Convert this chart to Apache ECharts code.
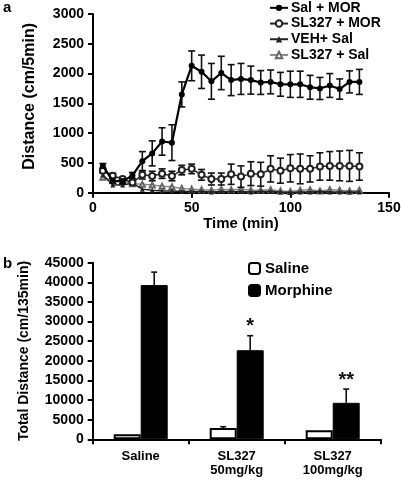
<!DOCTYPE html>
<html>
<head>
<meta charset="utf-8">
<script src="https://cdn.jsdelivr.net/npm/echarts@6/dist/echarts.min.js"></script>
<style>html,body{margin:0;padding:0;background:#fff}#c{width:401px;height:480px}</style>
</head>
<body>
<div id="c"></div>
<script>
// ---- Panel a data ----
var timeMin = [5,10,15,20,25,30,35,40,45,50,55,60,65,70,75,80,85,90,95,100,105,110,115,120,125,130,135];
var salMor = [450,200,190,290,530,660,860,840,1650,2130,2030,1870,2010,1890,1910,1890,1850,1860,1820,1820,1820,1770,1750,1800,1740,1860,1860];
var salMorErr = [40,40,40,50,160,210,230,300,210,250,280,300,280,260,260,235,200,200,200,220,220,200,185,200,170,185,210];
var sl327Mor = [370,285,230,170,300,280,320,280,380,400,300,230,230,310,270,320,310,400,370,410,400,400,440,450,450,450,440];
var sl327MorErr = [40,40,30,40,70,80,80,80,80,80,90,100,100,170,180,200,200,220,210,230,250,220,230,240,250,260,230];
var vehSal = [300,130,130,160,60,40,30,30,20,20,20,10,20,20,20,10,20,20,10,5,10,10,20,10,10,10,10];
var sl327Sal = [260,200,190,150,140,130,110,100,70,60,50,40,60,50,60,40,40,50,30,20,40,50,30,50,40,30,40];
var seriesNamesA = ['Sal + MOR','SL327 + MOR','VEH+ Sal','SL327 + Sal'];
var xTicksA = {min:0, max:150, interval:50};
var yTicksA = {min:0, max:3000, interval:500};

// ---- Panel b data ----
var groups = ['Saline','SL327\n50mg/kg','SL327\n100mg/kg'];
var salineTotal = [1300,2900,2300];
var salineTotalErr = [0,300,0];
var morphineTotal = [39300,22700,9300];
var morphineTotalErr = [3300,3700,3500];
var signif = ['','*','**'];
var yTicksB = {min:0, max:45000, interval:5000};

var FONT = 'Liberation Sans, Arial, sans-serif';
var chart = echarts.init(document.getElementById('c'), null, {renderer:'canvas'});

function pairs(xs, ys){ return xs.map(function(x,i){return [x, ys[i]];}); }
function errData(xs, ys, es){ return xs.map(function(x,i){return [x, ys[i], es[i]];}); }

function errRender(params, api){
  var x = api.value(0), y = api.value(1), e = api.value(2);
  var top = api.coord([x, y + e]);
  var bot = api.coord([x, Math.max(0, y - e)]);
  var cw = 3.5;
  return {type:'group', children:[
    {type:'line', shape:{x1:top[0],y1:top[1],x2:bot[0],y2:bot[1]}, style:{stroke:'#111',lineWidth:1.6}},
    {type:'line', shape:{x1:top[0]-cw,y1:top[1],x2:top[0]+cw,y2:top[1]}, style:{stroke:'#111',lineWidth:1.6}},
    {type:'line', shape:{x1:bot[0]-cw,y1:bot[1],x2:bot[0]+cw,y2:bot[1]}, style:{stroke:'#111',lineWidth:1.6}}
  ]};
}

function barErrRender(offsetSign){
  return function(params, api){
    var ci = api.value(0), y = api.value(1), e = api.value(2);
    var base = api.coord([ci, y]);
    var top = api.coord([ci, y + e]);
    var x = base[0] + offsetSign * 13.5;
    var ch = [];
    if (e > 0) {
      ch.push({type:'line', shape:{x1:x,y1:base[1],x2:x,y2:top[1]}, style:{stroke:'#111',lineWidth:1.6}});
      ch.push({type:'line', shape:{x1:x-3,y1:top[1],x2:x+3,y2:top[1]}, style:{stroke:'#111',lineWidth:1.6}});
    }
    var lab = signif[params.dataIndex];
    if (offsetSign > 0 && lab) {
      ch.push({type:'text', style:{text:lab, x:x, y:top[1]+1, align:'center', verticalAlign:'bottom', fill:'#111', font:'bold 20px ' + FONT}});
    }
    return {type:'group', children:ch};
  };
}

var axisLineStyle = {color:'#000', width:2};
var plain = function(v){ return String(v); };
var tickLab = {color:'#000', fontWeight:'bold', fontSize:14, fontFamily:FONT, formatter:plain};

var option = {
  animation:false,
  backgroundColor:'#fff',
  textStyle:{fontFamily:FONT},
  graphic:[
    {type:'text', left:3, top:0, style:{text:'a', font:'bold 15px ' + FONT, fill:'#000'}},
    {type:'text', left:3, top:256, style:{text:'b', font:'bold 15px ' + FONT, fill:'#000'}}
  ],
  legend:[
    {data:seriesNamesA, orient:'vertical', left:264, top:-5, itemGap:0, itemWidth:18, itemHeight:8,
     textStyle:{color:'#000', fontWeight:'bold', fontSize:14, fontFamily:FONT, padding:[0,0,0,-2], lineHeight:15.7}},
    {data:['Saline','Morphine'], orient:'vertical', left:243, top:256, itemGap:7, itemWidth:11, itemHeight:11,
     textStyle:{color:'#000', fontWeight:'bold', fontSize:15, fontFamily:FONT}}
  ],
  grid:[
    {left:93, right:12, top:14, bottom:287.3, containLabel:false, outerBoundsMode:'none'},
    {left:92.7, right:20.3, top:262.7, bottom:40.7, containLabel:false, outerBoundsMode:'none'}
  ],
  xAxis:[
    {gridIndex:0, type:'value', min:xTicksA.min, max:xTicksA.max, interval:xTicksA.interval,
     name:'Time (min)', nameLocation:'middle', nameGap:24,
     nameTextStyle:{color:'#000', fontWeight:'bold', fontSize:15, fontFamily:FONT},
     axisLine:{lineStyle:axisLineStyle}, axisTick:{show:true, length:5, lineStyle:{color:'#000', width:2}},
     axisLabel:Object.assign({margin:8}, tickLab), splitLine:{show:false}},
    {gridIndex:1, type:'category', data:groups,
     axisLine:{lineStyle:axisLineStyle}, axisTick:{show:true, length:5, alignWithLabel:false, lineStyle:{color:'#000', width:2}},
     axisLabel:{color:'#000', fontWeight:'bold', fontSize:13, fontFamily:FONT, margin:10, lineHeight:14},
     splitLine:{show:false}}
  ],
  yAxis:[
    {gridIndex:0, type:'value', min:yTicksA.min, max:yTicksA.max, interval:yTicksA.interval,
     name:'Distance (cm/5min)', nameLocation:'middle', nameGap:55,
     nameTextStyle:{color:'#000', fontWeight:'bold', fontSize:16, fontFamily:FONT, padding:[0,0,0,14]},
     axisLine:{show:true, lineStyle:axisLineStyle}, axisTick:{show:true, length:5, lineStyle:{color:'#000', width:2}},
     axisLabel:Object.assign({margin:9}, tickLab), splitLine:{show:false}},
    {gridIndex:1, type:'value', min:yTicksB.min, max:yTicksB.max, interval:yTicksB.interval,
     name:'Total Distance (cm/135min)', nameLocation:'middle', nameGap:62,
     nameTextStyle:{color:'#000', fontWeight:'bold', fontSize:14, fontFamily:FONT},
     axisLine:{show:true, lineStyle:axisLineStyle}, axisTick:{show:true, length:5, lineStyle:{color:'#000', width:2}},
     axisLabel:Object.assign({margin:9}, tickLab), splitLine:{show:false}}
  ],
  series:[
    {name:'SL327 + Sal', type:'line', xAxisIndex:0, yAxisIndex:0, data:pairs(timeMin, sl327Sal),
     symbol:'emptyTriangle', symbolSize:5, lineStyle:{color:'#8a8a8a', width:1.5},
     itemStyle:{color:'#666', borderColor:'#666', borderWidth:1}, z:2},
    {name:'VEH+ Sal', type:'line', xAxisIndex:0, yAxisIndex:0, data:pairs(timeMin, vehSal),
     symbol:'triangle', symbolSize:5, lineStyle:{color:'#222', width:1.5},
     itemStyle:{color:'#222'}, z:3},
    {type:'custom', xAxisIndex:0, yAxisIndex:0, data:errData(timeMin, sl327Mor, sl327MorErr), renderItem:errRender, z:4, silent:true},
    {name:'SL327 + MOR', type:'line', xAxisIndex:0, yAxisIndex:0, data:pairs(timeMin, sl327Mor),
     symbol:'emptyCircle', symbolSize:6, lineStyle:{color:'#222', width:1.5},
     itemStyle:{color:'#222', borderColor:'#222', borderWidth:1.2}, z:5},
    {type:'custom', xAxisIndex:0, yAxisIndex:0, data:errData(timeMin, salMor, salMorErr), renderItem:errRender, z:6, silent:true},
    {name:'Sal + MOR', type:'line', xAxisIndex:0, yAxisIndex:0, data:pairs(timeMin, salMor),
     symbol:'circle', symbolSize:6, lineStyle:{color:'#000', width:2.2},
     itemStyle:{color:'#000'}, z:7},

    {name:'Saline', type:'bar', xAxisIndex:1, yAxisIndex:1, data:salineTotal, barWidth:27, barGap:'0%',
     itemStyle:{color:'#fff', borderColor:'#000', borderWidth:2}},
    {name:'Morphine', type:'bar', xAxisIndex:1, yAxisIndex:1, data:morphineTotal, barWidth:27, barGap:'0%',
     itemStyle:{color:'#000', borderColor:'#000', borderWidth:1}},
    {type:'custom', xAxisIndex:1, yAxisIndex:1, data:salineTotal.map(function(v,i){return [i, v, salineTotalErr[i]];}),
     renderItem:barErrRender(-1), z:5, silent:true},
    {type:'custom', xAxisIndex:1, yAxisIndex:1, data:morphineTotal.map(function(v,i){return [i, v, morphineTotalErr[i]];}),
     renderItem:barErrRender(1), z:5, silent:true}
  ]
};
chart.setOption(option);
</script>
</body>
</html>
